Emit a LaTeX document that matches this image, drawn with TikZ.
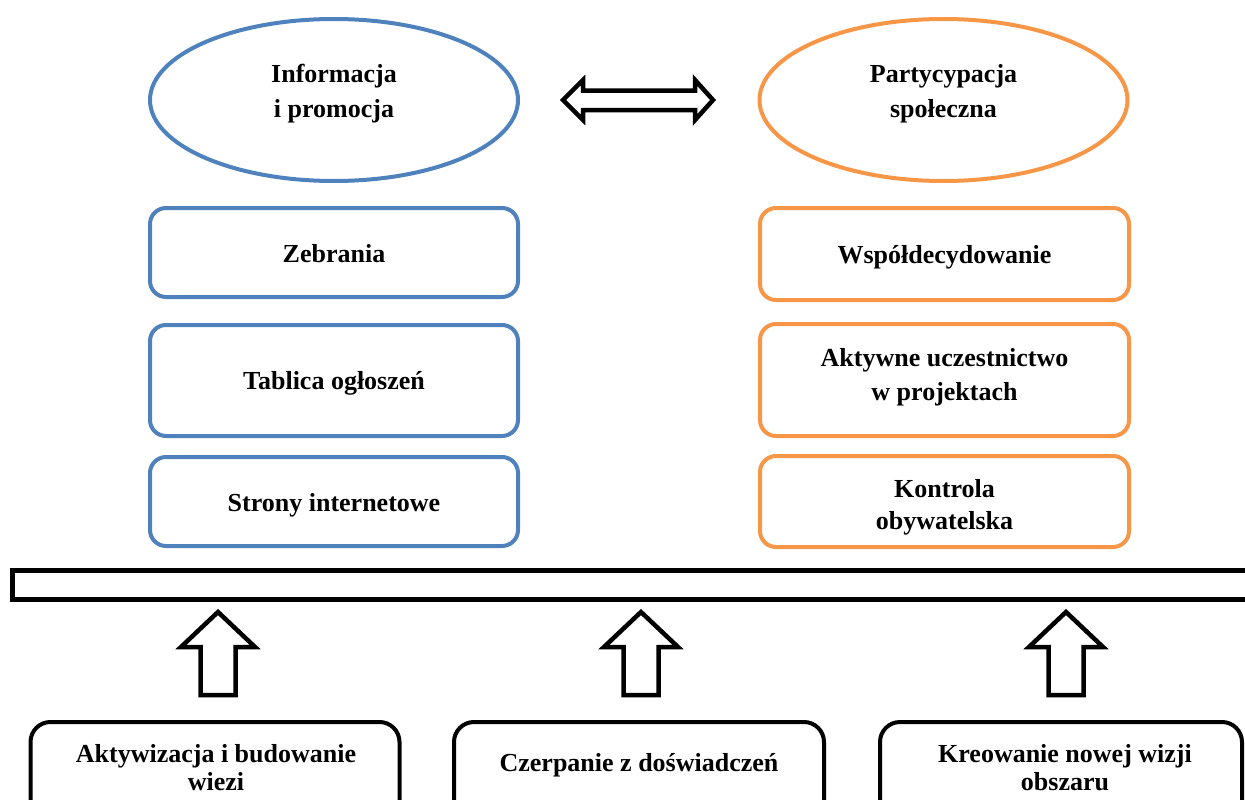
\documentclass[tikz,border=0pt]{standalone}
\usepackage{fontspec}
\setmainfont{Liberation Serif}
\usetikzlibrary{shapes.geometric}
\definecolor{cblue}{HTML}{4F81BD}
\definecolor{corange}{HTML}{F79646}
\begin{document}
\begin{tikzpicture}[x=1pt,y=-1pt,
  txt/.style={font=\fontsize{26}{34}\selectfont\bfseries, align=center, inner sep=0pt},
  oval/.style={ellipse, draw, line width=4pt, minimum width=368pt, minimum height=162pt, inner sep=0pt},
  card/.style={draw, line width=4pt, rounded corners=16pt, minimum width=368pt, inner sep=0pt},
  basecard/.style={draw=black, line width=4pt, rounded corners=20pt, anchor=north, inner sep=0pt},
  bigarrow/.style={draw=black, line width=4.5pt, line join=miter},
  uparrow/.pic={\draw[bigarrow] (0,0) -- (37,35) -- (17.5,35) -- (17.5,83) -- (-17.5,83) -- (-17.5,35) -- (-37,35) -- cycle;}
]
\useasboundingbox (0,0) rectangle (1245,800);
\clip (0,0) rectangle (1245,800);

% ellipses
\node[oval, draw=cblue] (info) at (334,100) {};
\node[txt, font=\fontsize{26}{35}\selectfont\bfseries] (infoT) at (334,94) {Informacja\\i promocja};
\node[oval, draw=corange] (part) at (943.5,100) {};
\node[txt, font=\fontsize{26}{35}\selectfont\bfseries] (partT) at (943.5,94) {Partycypacja\\społeczna};

% double arrow
\draw[bigarrow] (563,100) -- (583,80) -- (583,90.5) -- (695,90.5) -- (695,80) -- (713,100)
  -- (695,120) -- (695,110) -- (583,110) -- (583,120) -- cycle;

% left cards
\node[card, draw=cblue, minimum height=89pt] (zeb) at (334,252.5) {};
\node[txt] (zebT) at (334,253.5) {Zebrania};
\node[card, draw=cblue, minimum height=111pt] (tab) at (334,380.5) {};
\node[txt] (tabT) at (334,383.5) {Tablica ogłoszeń};
\node[card, draw=cblue, minimum height=89pt] (str) at (334,501.5) {};
\node[txt] (strT) at (334,505) {Strony internetowe};

% right cards
\node[card, draw=corange, minimum width=369pt, minimum height=92pt] (wsp) at (944.5,254) {};
\node[txt] (wspT) at (944.5,257) {Współdecydowanie};
\node[card, draw=corange, minimum width=369pt, minimum height=112pt] (akt) at (944.5,380) {};
\node[txt] (aktT) at (944.5,377) {Aktywne uczestnictwo\\w projektach};
\node[card, draw=corange, minimum width=369pt, minimum height=91pt] (kon) at (944.5,501.5) {};
\node[txt, font=\fontsize{26}{32}\selectfont\bfseries] (konT) at (944.5,507.5) {Kontrola\\obywatelska};

% bar
\draw[line width=4.5pt] (12.5,570.5) rectangle (1265,599.5);

% block arrows
\pic at (218,612) {uparrow};
\pic at (641,612) {uparrow};
\pic at (1066,612) {uparrow};

% bottom cards
\node[basecard, minimum width=369pt, minimum height=100pt] (b1) at (215,720) {};
\node[txt, font=\fontsize{26}{28}\selectfont\bfseries] (b1T) at (216,768) {Aktywizacja i budowanie\\wiezi};
\node[basecard, minimum width=370pt, minimum height=100pt] (b2) at (639,720) {};
\node[txt] (b2T) at (639,765) {Czerpanie z doświadczeń};
\node[basecard, minimum width=362pt, minimum height=100pt] (b3) at (1061,720) {};
\node[txt, font=\fontsize{26}{28}\selectfont\bfseries] (b3T) at (1065,768) {Kreowanie nowej wizji\\obszaru};
\end{tikzpicture}
\end{document}
